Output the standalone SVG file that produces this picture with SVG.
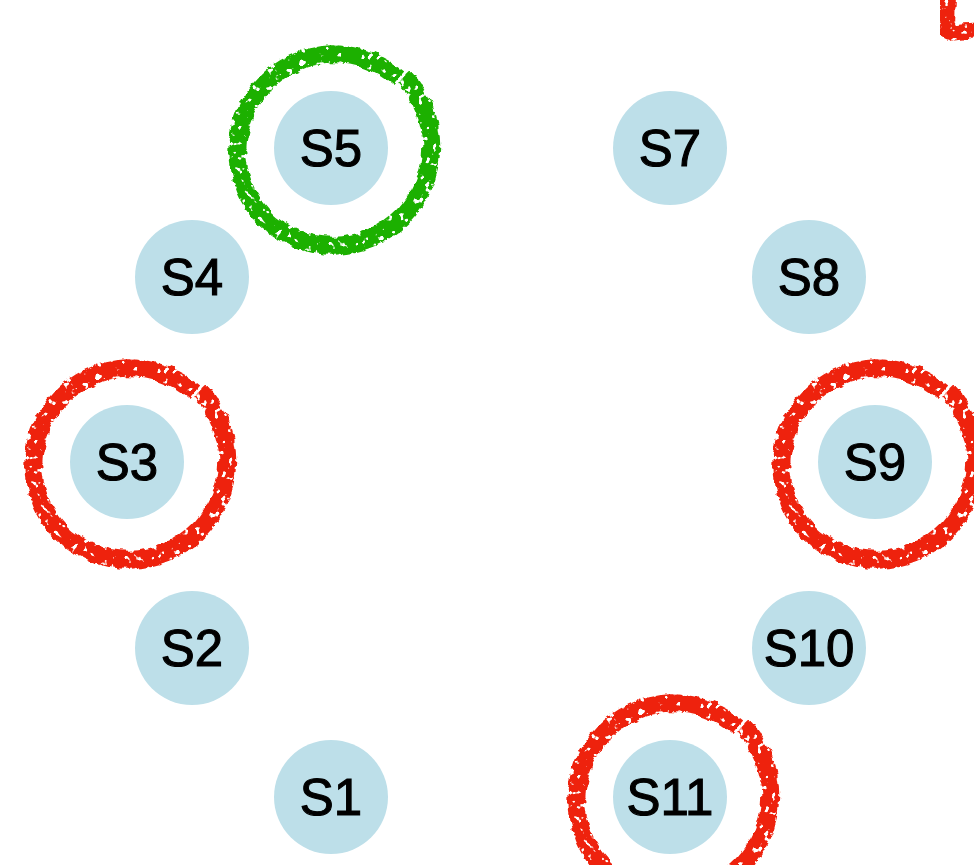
<svg xmlns="http://www.w3.org/2000/svg" xmlns:xlink="http://www.w3.org/1999/xlink" width="974" height="865" viewBox="0 0 974 865">
  <style>
    .node circle { fill: #bddfe9; }
    .node text { font-family: "Liberation Sans", Arial, sans-serif; font-size: 51px; fill: #000; stroke: #000; stroke-width: 1.1; text-anchor: middle; dominant-baseline: central; }
    .mark { fill: none; stroke-width: 18; stroke-linecap: butt; filter: url(#rough); }
    .green { stroke: #1eb000; }
    .red { stroke: #ee2410; }
  </style>
  <defs>
    <!-- marker-pen look for the hand-drawn highlights -->
    <filter id="rough" x="-20%" y="-20%" width="140%" height="140%">
      <feTurbulence type="fractalNoise" baseFrequency="0.1" numOctaves="3" seed="5" result="noise"/>
      <feDisplacementMap in="SourceGraphic" in2="noise" scale="7" xChannelSelector="R" yChannelSelector="G" result="shifted"/>
      <feTurbulence type="fractalNoise" baseFrequency="0.16" numOctaves="2" seed="9" result="grain"/>
      <feColorMatrix in="grain" type="matrix" values="0 0 0 0 0  0 0 0 0 0  0 0 0 0 0  0 0 0 -14 10" result="holes"/>
      <feComposite in="shifted" in2="holes" operator="in"/>
    </filter>
    <!-- ring drawn in one stroke, the end overlapping the start a little further out -->
    <path id="ring" d="M 67.3 -69.7 A 97 97 0 0 0 -67.3 69.7 A 98 98 0 0 0 71.2 68.7 A 101 101 0 0 0 73.3 -70.9"/>
  </defs>

  <g id="highlights">
    <use xlink:href="#ring" x="331" y="148" class="mark green"/>
    <use xlink:href="#ring" x="127" y="462" class="mark red"/>
    <use xlink:href="#ring" x="875" y="462" class="mark red"/>
    <use xlink:href="#ring" x="670" y="797" class="mark red"/>
    <path d="M 948 -6 L 947 26 Q 947 34 958 32 L 980 30" class="mark red" style="stroke-width:16"/>
  </g>

  <g id="connectors"/>

  <g id="S1" class="node"><circle cx="331" cy="797" r="57"/><text x="331" y="797">S1</text></g>
  <g id="S2" class="node"><circle cx="192" cy="648" r="57"/><text x="192" y="648">S2</text></g>
  <g id="S3" class="node"><circle cx="127" cy="462" r="57"/><text x="127" y="462">S3</text></g>
  <g id="S4" class="node"><circle cx="192" cy="277" r="57"/><text x="192" y="277">S4</text></g>
  <g id="S5" class="node"><circle cx="331" cy="148" r="57"/><text x="331" y="148">S5</text></g>
  <g id="S7" class="node"><circle cx="670" cy="148" r="57"/><text x="670" y="148">S7</text></g>
  <g id="S8" class="node"><circle cx="809" cy="277" r="57"/><text x="809" y="277">S8</text></g>
  <g id="S9" class="node"><circle cx="875" cy="462" r="57"/><text x="875" y="462">S9</text></g>
  <g id="S10" class="node"><circle cx="809" cy="648" r="57"/><text x="809" y="648">S10</text></g>
  <g id="S11" class="node"><circle cx="670" cy="797" r="57"/><text x="670" y="797">S11</text></g>
</svg>
